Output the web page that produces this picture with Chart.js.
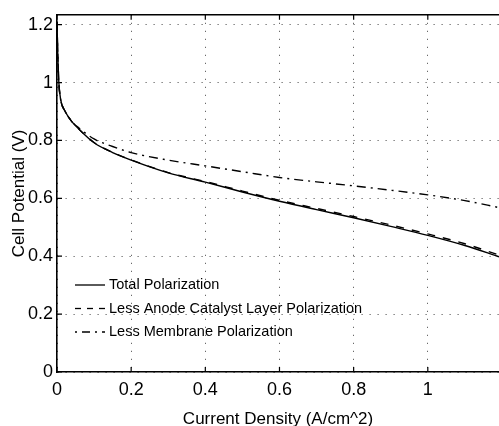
<!DOCTYPE html>
<html>
<head>
<meta charset="UTF-8">
<title>Cell Potential vs Current Density</title>
<script src="https://cdn.jsdelivr.net/npm/chart.js"></script>
<style>
  html, body { margin: 0; padding: 0; background: #fff; }
  #wrap { width: 499px; height: 426px; }
</style>
</head>
<body>
<div id="wrap"><canvas id="polChart" width="499" height="426"></canvas></div>
<script>
// current density (A/cm^2)
const currentDensity = [0, 0.002, 0.005, 0.01, 0.02, 0.04, 0.06, 0.1, 0.15, 0.2, 0.3, 0.4, 0.5, 0.6, 0.7, 0.8, 0.9, 1.0, 1.1, 1.192];
// cell potential (V)
const totalPol    = [1.21, 1.10, 1.00, 0.94, 0.905, 0.865, 0.838, 0.792, 0.758, 0.732, 0.688, 0.656, 0.622, 0.590, 0.561, 0.533, 0.503, 0.472, 0.437, 0.398];
const lessAnode   = [1.21, 1.10, 1.00, 0.94, 0.905, 0.865, 0.838, 0.793, 0.759, 0.733, 0.689, 0.658, 0.625, 0.593, 0.565, 0.537, 0.508, 0.477, 0.443, 0.404];
const lessMembr   = [1.21, 1.10, 1.00, 0.94, 0.905, 0.866, 0.842, 0.805, 0.779, 0.758, 0.732, 0.712, 0.692, 0.672, 0.657, 0.643, 0.628, 0.612, 0.592, 0.568];

const seriesNames = ['Total Polarization', 'Less Anode Catalyst Layer Polarization', 'Less Membrane Polarization'];

const xTicks = [0, 0.2, 0.4, 0.6, 0.8, 1];
const xTickLabels = ['0', '0.2', '0.4', '0.6', '0.8', '1'];
const yTicks = [0, 0.2, 0.4, 0.6, 0.8, 1, 1.2];
const yTickLabels = ['0', '0.2', '0.4', '0.6', '0.8', '1', '1.2'];

const FONT = "'Liberation Sans', Arial, sans-serif";

function pts(ys) {
    return currentDensity.map((x, i) => ({ x: x, y: ys[i] }));
}

const dashes = [[], [8, 8], [9, 5, 2, 5]];

const datasets = [totalPol, lessAnode, lessMembr].map((ys, i) => ({
    label: seriesNames[i],
    data: pts(ys),
    borderColor: '#000',
    borderWidth: 1.4,
    borderDash: dashes[i],
    pointRadius: 0,
    fill: false,
    cubicInterpolationMode: 'monotone'
}));

// frame on top + inward ticks (matlab box style)
const framePlugin = {
    id: 'frame',
    afterDraw(chart) {
        const c = chart.ctx, a = chart.chartArea;
        const xs = chart.scales.x, ys = chart.scales.y;
        c.save();
        c.strokeStyle = '#000';
        c.lineWidth = 1.6;
        c.beginPath();
        c.moveTo(a.left, a.top);
        c.lineTo(a.right, a.top);
        c.stroke();
        c.lineWidth = 1.2;
        c.beginPath();
        xTicks.forEach(v => {
            const px = xs.getPixelForValue(v);
            c.moveTo(px, a.top); c.lineTo(px, a.top + 5);
            c.moveTo(px, a.bottom); c.lineTo(px, a.bottom - 5);
        });
        yTicks.forEach(v => {
            const py = ys.getPixelForValue(v);
            c.moveTo(a.left, py); c.lineTo(a.left + 5, py);
        });
        c.stroke();
        c.restore();
    }
};

// legend drawn inside the plot, lower left, without box
const legendPlugin = {
    id: 'insideLegend',
    afterDraw(chart) {
        const c = chart.ctx;
        const x0 = 75, x1 = 105, y0 = 285, step = 23.5;
        c.save();
        chart.data.datasets.forEach((ds, i) => {
            const y = y0 + i * step;
            c.strokeStyle = ds.borderColor;
            c.lineWidth = 1.3;
            c.setLineDash(i === 1 ? [6, 6] : i === 2 ? [2, 5, 8, 5] : []);
            c.beginPath();
            c.moveTo(x0, y); c.lineTo(x1, y);
            c.stroke();
            c.setLineDash([]);
            c.fillStyle = '#000';
            c.font = '14.5px ' + FONT;
            c.textBaseline = 'middle';
            c.textAlign = 'left';
            c.fillText(ds.label, 109, y);
        });
        c.restore();
    }
};

const gridStyle = {
    color: '#444',
    lineWidth: 1,
    drawTicks: false
};

var ctx = document.getElementById('polChart').getContext('2d');
var polChart = new Chart(ctx, {
    type: 'line',
    data: { datasets: datasets },
    options: {
        responsive: false,
        animation: false,
        layout: { padding: { top: 13, right: 0, left: 0, bottom: 0 } },
        plugins: {
            legend: { display: false },
            tooltip: { enabled: false }
        },
        scales: {
            x: {
                type: 'linear',
                min: 0,
                max: 1.192,
                afterBuildTicks: s => { s.ticks = xTicks.map(v => ({ value: v })); },
                afterFit: s => { s.height = 54; },
                ticks: {
                    color: '#000',
                    font: { family: FONT, size: 18 },
                    padding: 7,
                    maxRotation: 0,
                    callback: (v) => xTickLabels[xTicks.indexOf(v)]
                },
                grid: Object.assign({}, gridStyle),
                border: { display: true, color: '#000', width: 1.6, dash: [1, 7] },
                title: {
                    display: true,
                    text: 'Current Density (A/cm^2)',
                    color: '#000',
                    font: { family: FONT, size: 17 },
                    padding: { top: 0, bottom: -4 }
                }
            },
            y: {
                type: 'linear',
                min: 0,
                max: 1.234,
                afterBuildTicks: s => { s.ticks = yTicks.map(v => ({ value: v })); },
                afterFit: s => { s.width = 57; },
                ticks: {
                    color: '#000',
                    font: { family: FONT, size: 18 },
                    padding: 4,
                    callback: (v) => yTickLabels[yTicks.indexOf(v)]
                },
                grid: Object.assign({}, gridStyle),
                border: { display: true, color: '#000', width: 1.6, dash: [1, 7] },
                title: {
                    display: true,
                    text: 'Cell Potential (V)',
                    color: '#000',
                    font: { family: FONT, size: 17 },
                    padding: { top: 9, bottom: 0 }
                }
            }
        }
    },
    plugins: [framePlugin, legendPlugin]
});
</script>
</body>
</html>
